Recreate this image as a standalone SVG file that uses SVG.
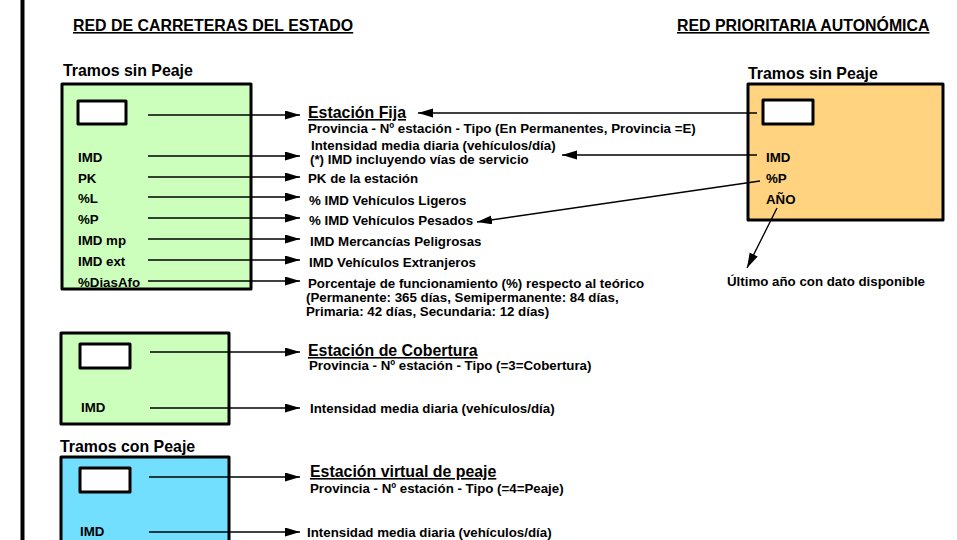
<svg xmlns="http://www.w3.org/2000/svg" width="957" height="540" viewBox="0 0 957 540">
<defs>
<marker id="ah" markerUnits="userSpaceOnUse" markerWidth="16" markerHeight="10" refX="15" refY="4.5" orient="auto">
<path d="M0,0 L15,4.5 L0,9 z" fill="#000"/>
</marker>
<style>
text{font-family:"Liberation Sans",Arial,sans-serif;font-weight:bold;fill:#000}
.h{font-size:15.9px;text-decoration:underline}
.t{font-size:15.9px}
.s{font-size:13.3px}
.box{stroke:#000;stroke-width:3;stroke-linejoin:round}
.win{fill:#fff;stroke:#000;stroke-width:3;stroke-linejoin:round}
.c line{stroke:#000;stroke-width:1.4;marker-end:url(#ah)}
</style>
</defs>
<rect width="957" height="540" fill="#fff"/>
<line x1="22.5" y1="0" x2="22.5" y2="540" stroke="#000" stroke-width="4"/>

<text class="h" x="73" y="31">RED DE CARRETERAS DEL ESTADO</text>
<text class="h" x="677" y="31">RED PRIORITARIA AUTONÓMICA</text>

<g id="estado-sin-peaje">
<text class="t" x="63" y="76">Tramos sin Peaje</text>
<rect class="box" x="62" y="84" width="189" height="205" fill="#CCFFBB"/>
<rect class="win" x="78" y="101" width="48" height="23"/>
<text class="s" x="78" y="162">IMD</text>
<text class="s" x="78" y="183">PK</text>
<text class="s" x="78" y="203">%L</text>
<text class="s" x="78" y="224">%P</text>
<text class="s" x="78" y="245">IMD mp</text>
<text class="s" x="78" y="266">IMD ext</text>
<text class="s" x="78" y="287">%DiasAfo</text>
</g>

<g id="autonomica-sin-peaje">
<text class="t" x="748" y="79">Tramos sin Peaje</text>
<rect class="box" x="748" y="84" width="195" height="136" fill="#FFD37F"/>
<rect class="win" x="763" y="100" width="50" height="24"/>
<text class="s" x="766" y="162">IMD</text>
<text class="s" x="766" y="183">%P</text>
<text class="s" x="766" y="204">AÑO</text>
</g>

<g id="estacion-fija">
<text class="t" x="308" y="118" text-decoration="underline">Estación Fija</text>
<text class="s" x="308" y="133">Provincia - Nº estación - Tipo (En Permanentes, Provincia =E)</text>
<text class="s" x="311" y="149.5">Intensidad media diaria (vehículos/día)</text>
<text class="s" x="310" y="163.5">(*) IMD incluyendo vías de servicio</text>
<text class="s" x="308" y="183">PK de la estación</text>
<text class="s" x="309" y="205">% IMD Vehículos Ligeros</text>
<text class="s" x="309" y="225">% IMD Vehículos Pesados</text>
<text class="s" x="310" y="246">IMD Mercancías Peligrosas</text>
<text class="s" x="309" y="267">IMD Vehículos Extranjeros</text>
<text class="s" x="308" y="288">Porcentaje de funcionamiento (%) respecto al teórico</text>
<text class="s" x="306" y="302">(Permanente: 365 días, Semipermanente: 84 días,</text>
<text class="s" x="306" y="316">Primaria: 42 días, Secundaria: 12 días)</text>
</g>

<g id="ultimo-ano">
<text class="s" x="727" y="286">Último año con dato disponible</text>
</g>

<g id="estado-cobertura">
<rect class="box" x="61" y="333" width="168" height="91" fill="#CCFFBB"/>
<rect class="win" x="80" y="344" width="50" height="24"/>
<text class="s" x="81" y="412">IMD</text>
</g>

<g id="estacion-cobertura">
<text class="t" x="308" y="356" text-decoration="underline">Estación de Cobertura</text>
<text class="s" x="309" y="370">Provincia - Nº estación - Tipo (=3=Cobertura)</text>
<text class="s" x="310" y="413">Intensidad media diaria (vehículos/día)</text>
</g>

<g id="estado-con-peaje">
<text class="t" x="60" y="452">Tramos con Peaje</text>
<rect class="box" x="61" y="457" width="168" height="100" fill="#72DFFF"/>
<rect class="win" x="80" y="468" width="50" height="24"/>
<text class="s" x="80" y="536">IMD</text>
</g>

<g id="estacion-peaje">
<text class="t" x="310" y="477" text-decoration="underline">Estación virtual de peaje</text>
<text class="s" x="310" y="493">Provincia - Nº estación - Tipo (=4=Peaje)</text>
<text class="s" x="307" y="537">Intensidad media diaria (vehículos/día)</text>
</g>

<g id="connectors" class="c">
<line x1="148" y1="115" x2="300" y2="115"/>
<line x1="148" y1="156" x2="300" y2="156"/>
<line x1="148" y1="177" x2="300" y2="177"/>
<line x1="148" y1="197" x2="300" y2="197"/>
<line x1="148" y1="218" x2="300" y2="218"/>
<line x1="148" y1="239" x2="300" y2="239"/>
<line x1="148" y1="260" x2="300" y2="260"/>
<line x1="148" y1="281" x2="300" y2="281"/>
<line x1="757" y1="113" x2="418" y2="113"/>
<line x1="757" y1="155" x2="562" y2="155"/>
<line x1="760" y1="181" x2="477" y2="222"/>
<line x1="777" y1="208" x2="747" y2="268"/>
<line x1="150" y1="352" x2="300" y2="352"/>
<line x1="150" y1="408" x2="300" y2="408"/>
<line x1="149" y1="477" x2="300" y2="477"/>
<line x1="149" y1="532" x2="300" y2="532"/>
</g>
</svg>
